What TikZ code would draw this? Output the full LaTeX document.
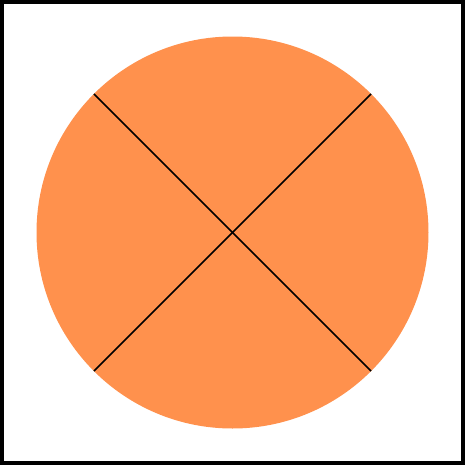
\documentclass[tikz,border=0pt]{standalone}
\usepackage{tikz}
\usetikzlibrary{calc}

\definecolor{disc}{HTML}{FF914D}

\begin{document}
\begin{tikzpicture}[x=0.75pt,y=-0.75pt]

% Frame
\useasboundingbox (0,0) rectangle (465,465);
\draw[line width=3pt] (2,2) rectangle (463,463);

% Disc
\coordinate (c) at (232.5,232.5);
\fill[disc] (c) circle (196);

% Diagonals
\coordinate (nw) at ($(c)+(135:196)$);
\coordinate (ne) at ($(c)+(45:196)$);
\coordinate (sw) at ($(c)+(225:196)$);
\coordinate (se) at ($(c)+(315:196)$);
\draw[line width=1.1pt] (nw) -- (se);
\draw[line width=1.1pt] (ne) -- (sw);

\end{tikzpicture}
\end{document}
